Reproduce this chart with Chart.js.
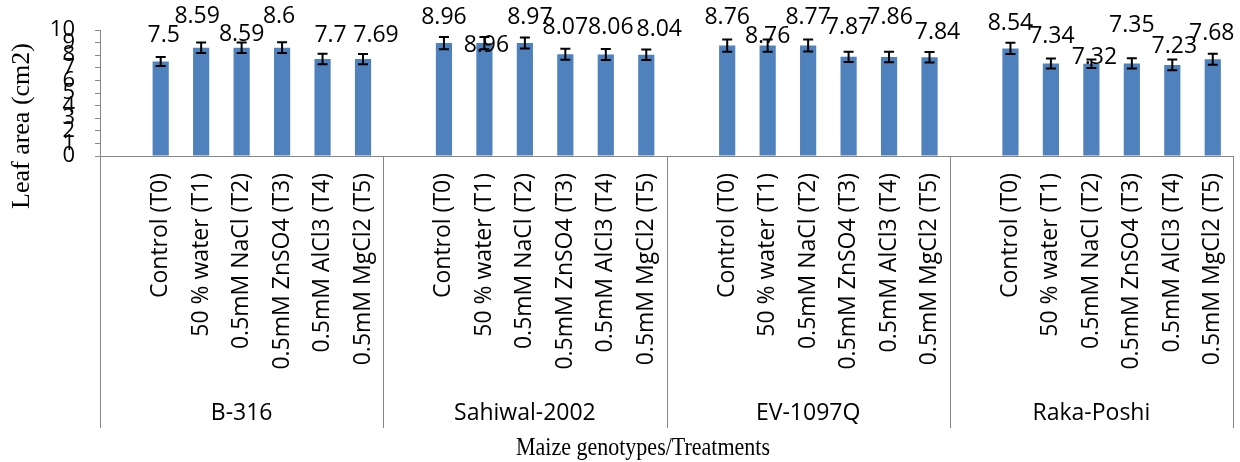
<!DOCTYPE html>
<html>
<head>
<meta charset="utf-8">
<script src="https://cdn.jsdelivr.net/npm/chart.js@4.4.1/dist/chart.umd.min.js"></script>
<style>
  html, body { margin: 0; background: #fff; }
  #wrap { width: 1240px; height: 462px; }
</style>
</head>
<body>
<div id="wrap"><canvas id="chart" width="1240" height="462"></canvas></div>
<script>
// Data
const genotypes = ['B-316', 'Sahiwal-2002', 'EV-1097Q', 'Raka-Poshi'];
const treatments = ['Control (T0)', '50 % water (T1)', '0.5mM NaCl (T2)', '0.5mM ZnSO4 (T3)', '0.5mM AlCl3 (T4)', '0.5mM MgCl2 (T5)'];

const b316 = [7.5, 8.59, 8.59, 8.6, 7.7, 7.69];
const sahiwal2002 = [8.96, 8.96, 8.97, 8.07, 8.06, 8.04];
const ev1097q = [8.76, 8.76, 8.77, 7.87, 7.86, 7.84];
const rakaPoshi = [8.54, 7.34, 7.32, 7.35, 7.23, 7.68];

const b316Err = [0.36, 0.41, 0.41, 0.42, 0.41, 0.41];
const sahiwal2002Err = [0.48, 0.48, 0.44, 0.44, 0.44, 0.42];
const ev1097qErr = [0.49, 0.49, 0.48, 0.41, 0.41, 0.42];
const rakaPoshiErr = [0.45, 0.4, 0.33, 0.4, 0.42, 0.44];

const yMin = 0, yMax = 10, yStep = 1;

// Hand-placed data label nudges (px), like the manually moved labels in the original
const labelDx = [3, -4, 0, -3, 8, 13, 0, 2, 5, 0, 5, 13, 0, 0, 0, 0, 1, 8, 0, 1, 3, 0, 2, -1];
const labelDy = [-26, -31, -13, -31, -24, -24, -26, 2, -26, -27, -27, -25, -28, -9, -28, -29, -40, -25, -25, -27, -6, -38, -18, -26];

// Each genotype gets an empty leading slot, as in the original category axis
const groupValues = [b316, sahiwal2002, ev1097q, rakaPoshi];
const groupErrs = [b316Err, sahiwal2002Err, ev1097qErr, rakaPoshiErr];
const slotsPerGroup = treatments.length + 1;

const labels = [], values = [], errs = [], dxs = [], dys = [];
let k = 0;
genotypes.forEach((g, gi) => {
  labels.push(''); values.push(null); errs.push(null); dxs.push(0); dys.push(0);
  treatments.forEach((t, ti) => {
    labels.push(t);
    values.push(groupValues[gi][ti]);
    errs.push(groupErrs[gi][ti]);
    dxs.push(labelDx[k]);
    dys.push(labelDy[k]);
    k++;
  });
});

const AXIS_GREY = '#868686';
const SANS = '"Open Sans", sans-serif';
const SERIF = '"Liberation Serif", "Times New Roman", serif';

const errorBars = {
  id: 'errorBars',
  afterDatasetsDraw(chart) {
    const { ctx } = chart;
    const y = chart.scales.y;
    const meta = chart.getDatasetMeta(0);
    ctx.save();
    ctx.strokeStyle = '#000';
    ctx.lineWidth = 2;
    meta.data.forEach((bar, i) => {
      if (values[i] == null) return;
      const top = y.getPixelForValue(values[i] + errs[i]);
      const bot = y.getPixelForValue(values[i] - errs[i]);
      ctx.beginPath();
      ctx.moveTo(bar.x, top); ctx.lineTo(bar.x, bot);
      ctx.moveTo(bar.x - 5, top); ctx.lineTo(bar.x + 5, top);
      ctx.moveTo(bar.x - 5, bot); ctx.lineTo(bar.x + 5, bot);
      ctx.stroke();
    });
    ctx.restore();
  }
};

const valueLabels = {
  id: 'valueLabels',
  afterDatasetsDraw(chart) {
    const { ctx } = chart;
    const meta = chart.getDatasetMeta(0);
    ctx.save();
    ctx.fillStyle = '#000';
    ctx.font = '23px ' + SANS;
    ctx.textAlign = 'center';
    ctx.textBaseline = 'middle';
    meta.data.forEach((bar, i) => {
      if (values[i] == null) return;
      ctx.fillText(String(values[i]), bar.x + dxs[i], bar.y + dys[i]);
    });
    ctx.restore();
  }
};

const groupAxis = {
  id: 'groupAxis',
  afterDraw(chart) {
    const { ctx, chartArea } = chart;
    const x = chart.scales.x;
    const half = (x.getPixelForValue(1) - x.getPixelForValue(0)) / 2;
    const edges = [];
    for (let g = 0; g <= genotypes.length; g++) {
      edges.push(g < genotypes.length ? x.getPixelForValue(g * slotsPerGroup) - half : chartArea.right);
    }
    ctx.save();
    ctx.strokeStyle = AXIS_GREY;
    ctx.lineWidth = 1;
    edges.forEach(ex => {
      const px = Math.round(ex) + 0.5;
      ctx.beginPath();
      ctx.moveTo(px, chartArea.bottom);
      ctx.lineTo(px, 428);
      ctx.stroke();
    });
    ctx.fillStyle = '#000';
    ctx.font = '23px ' + SANS;
    ctx.textAlign = 'center';
    ctx.textBaseline = 'middle';
    genotypes.forEach((g, gi) => {
      ctx.fillText(g, (edges[gi] + edges[gi + 1]) / 2, 413);
    });

    // axis titles (the original is a little stretched vertically)
    ctx.save();
    ctx.translate(643, 448);
    ctx.scale(1, 1.18);
    ctx.font = '22px ' + SERIF;
    ctx.fillText('Maize genotypes/Treatments', 0, 0);
    ctx.restore();
    ctx.translate(22, 126);
    ctx.rotate(-Math.PI / 2);
    ctx.font = '26px ' + SERIF;
    ctx.fillText('Leaf area (cm2)', 0, 0);
    ctx.restore();
  }
};

new Chart(document.getElementById('chart'), {
  type: 'bar',
  data: {
    labels,
    datasets: [{
      label: 'Leaf area',
      data: values,
      backgroundColor: '#4F81BD',
      borderWidth: 0,
      categoryPercentage: 1,
      barPercentage: 0.4
    }]
  },
  options: {
    responsive: false,
    animation: false,
    devicePixelRatio: 1,
    layout: { padding: { top: 30, right: 7, left: 0, bottom: 0 } },
    plugins: {
      legend: { display: false },
      tooltip: { enabled: false }
    },
    scales: {
      x: {
        offset: true,
        grid: { display: false, drawTicks: false },
        border: { display: true, color: AXIS_GREY, width: 1 },
        ticks: {
          autoSkip: false,
          minRotation: 90,
          maxRotation: 90,
          padding: 17,
          color: '#000',
          font: { family: SANS, size: 23 }
        },
        afterFit(scale) {
          scale.height = 306;
          scale.paddingLeft = 0;
          scale.paddingRight = 0;
        }
      },
      y: {
        min: yMin,
        max: yMax,
        grid: { drawOnChartArea: false, drawTicks: true, tickLength: 5, color: AXIS_GREY },
        border: { display: true, color: AXIS_GREY, width: 1 },
        ticks: {
          stepSize: yStep,
          autoSkip: false,
          padding: 20,
          color: '#000',
          font: { family: SANS, size: 22 }
        },
        afterFit(scale) {
          scale.width = 100;
          scale.paddingTop = 0;
          scale.paddingBottom = 0;
        }
      }
    }
  },
  plugins: [errorBars, valueLabels, groupAxis]
});
</script>
</body>
</html>
